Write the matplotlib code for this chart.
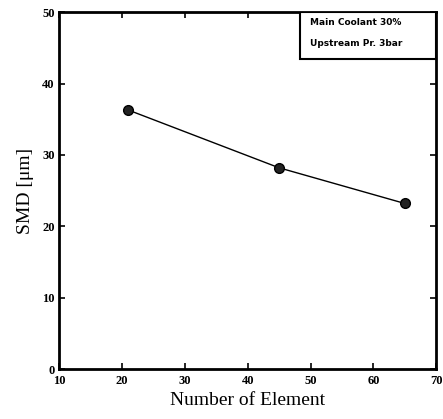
import matplotlib
matplotlib.use('Agg')
import matplotlib.pyplot as plt
from matplotlib.patches import Rectangle

# data
elements = [21, 45, 65]
smd = [36.3, 28.2, 23.2]
x_ticks = [10, 20, 30, 40, 50, 60, 70]
y_ticks = [0, 10, 20, 30, 40, 50]
note_lines = ['Main Coolant 30%', 'Upstream Pr. 3bar']

fig = plt.figure(figsize=(4.43, 4.19), dpi=100)
ax = fig.add_axes([0.133, 0.119, 0.852, 0.852])

ax.plot(elements, smd, color='black', linewidth=1.0,
        marker='o', markersize=7, markerfacecolor='#222222',
        markeredgecolor='black')

ax.set_xlim(10, 70)
ax.set_ylim(0, 50)
ax.set_xticks(x_ticks)
ax.set_yticks(y_ticks)
ax.tick_params(direction='in', length=4, width=1.2, top=True, right=True,
               labelsize=9)
ax.tick_params(axis='x', pad=4)
ax.tick_params(axis='y', pad=3)
for lab in ax.get_xticklabels() + ax.get_yticklabels():
    lab.set_fontweight('bold')
    lab.set_family('Liberation Serif')

for sp in ax.spines.values():
    sp.set_linewidth(2)

ax.set_xlabel('Number of Element', family='Liberation Serif', fontsize=14,
              labelpad=4)
ax.set_ylabel('SMD [\u03bcm]', family='Liberation Serif', fontsize=14,
              labelpad=6)

# note box in the upper right corner
ax.add_patch(Rectangle((0.64, 0.87), 0.36, 0.13, transform=ax.transAxes,
                       facecolor='white', edgecolor='black', linewidth=1.5,
                       zorder=3))
ax.text(0.665, 0.972, note_lines[0], transform=ax.transAxes, fontsize=6.5,
        fontweight='bold', va='center', ha='left', zorder=4)
ax.text(0.665, 0.913, note_lines[1], transform=ax.transAxes, fontsize=6.5,
        fontweight='bold', va='center', ha='left', zorder=4)

fig.savefig('out.png', dpi=100)
